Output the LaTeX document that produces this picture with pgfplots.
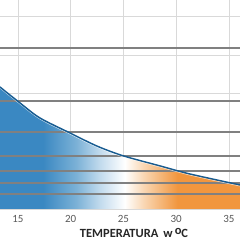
\documentclass[border=0pt]{standalone}
\usepackage{fontspec}
\setmainfont{Carlito}
\usepackage{pgfplots}
\pgfplotsset{compat=1.18}
\definecolor{fblue}{RGB}{58,136,194}
\definecolor{fblue2}{RGB}{125,178,215}
\definecolor{fblue3}{RGB}{196,220,238}
\definecolor{fpeach}{RGB}{249,214,178}
\definecolor{forange}{RGB}{241,150,62}
\definecolor{curveblue}{RGB}{24,92,145}
\definecolor{darkline}{RGB}{128,128,128}
\definecolor{lightgrid}{RGB}{217,217,217}
\definecolor{ticktext}{RGB}{89,89,89}
\pgfdeclarehorizontalshading{tempshade}{100bp}{color(0bp)=(fblue); color(34bp)=(fblue); color(41bp)=(fblue2); color(46bp)=(fblue3); color(51bp)=(white); color(55bp)=(fpeach); color(62bp)=(forange); color(100bp)=(forange)}
\pgfplotstableread{
x y
13.30 6.34
15.20 5.51
17.09 4.73
19.94 3.95
22.50 3.27
25.00 2.76
28.47 2.24
31.31 1.82
36.05 1.25
}\curvedata
\begin{document}
\begin{tikzpicture}
\begin{axis}[
  width=240bp, height=209bp, scale only axis,
  xmin=13.3, xmax=36.05, ymin=0, ymax=10.86,
  axis line style={draw=none},
  xtick={15,20,25,30,35},
  ytick={0,2,4,6,8,10},
  yticklabels={},
  major tick length=0pt,
  grid=major,
  grid style={lightgrid, line width=0.8bp},
  tick label style={font=\fontsize{11bp}{13bp}\selectfont, text=ticktext},
  /pgf/number format/assume math mode=true,
  xticklabel style={yshift=-3bp},
  xlabel={\textbf{TEMPERATURA\hspace{5bp}w\hspace{2bp}\raisebox{3bp}{o}C}},
  xlabel style={font=\fontsize{12.5bp}{14bp}\selectfont, text={rgb,255:red,38;green,38;blue,38}, xshift=14bp, yshift=-1bp, inner sep=1bp},
  clip=true,
]
\addplot[draw=none, shading=tempshade, smooth, tension=0.5] table {\curvedata} \closedcycle;
\foreach \yy in {8.36,5.61,3.99,2.75,1.97,1.35,0.78} {
  \edef\tmp{\noexpand\addplot[darkline, line width=1.7bp] coordinates {(13.3,\yy) (36.05,\yy)};}
  \tmp
}
\addplot[white, opacity=0.7, line width=0.7bp, smooth, tension=0.5, yshift=-1.1bp] table {\curvedata};
\addplot[curveblue, line width=1.4bp, smooth, tension=0.5] table {\curvedata};
\end{axis}
\pgfresetboundingbox
\path (current axis.south west) ++(0,-31bp) rectangle (current axis.north east);
\end{tikzpicture}
\end{document}
